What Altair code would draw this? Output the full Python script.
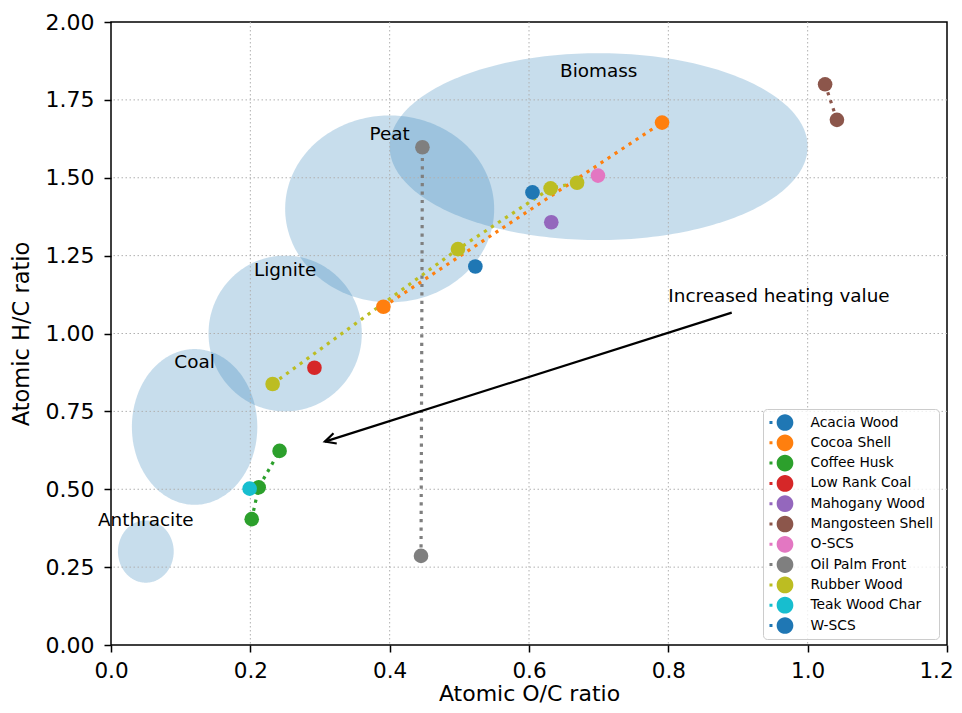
import math
import altair as alt
import numpy as np
import pandas as pd

# ---------------- data ----------------
series_names = ["Acacia Wood", "Cocoa Shell", "Coffee Husk", "Low Rank Coal",
                "Mahogany Wood", "Mangosteen Shell", "O-SCS", "Oil Palm Front",
                "Rubber Wood", "Teak Wood Char", "W-SCS"]
series_colors = ["#1f77b4", "#ff7f0e", "#2ca02c", "#d62728", "#9467bd", "#8c564b",
                 "#e377c2", "#7f7f7f", "#bcbd22", "#17becf", "#1f77b4"]

acacia_wood_oc = [0.523]
acacia_wood_hc = [1.215]
cocoa_shell_oc = [0.391, 0.791]
cocoa_shell_hc = [1.086, 1.677]
coffee_husk_oc = [0.202, 0.212, 0.242]
coffee_husk_hc = [0.404, 0.506, 0.623]
low_rank_coal_oc = [0.292]
low_rank_coal_hc = [0.890]
mahogany_wood_oc = [0.632]
mahogany_wood_hc = [1.357]
mangosteen_shell_oc = [1.025, 1.042]
mangosteen_shell_hc = [1.800, 1.686]
o_scs_oc = [0.699]
o_scs_hc = [1.507]
oil_palm_front_oc = [0.445, 0.447]
oil_palm_front_hc = [0.286, 1.598]
rubber_wood_oc = [0.232, 0.498, 0.631, 0.669]
rubber_wood_hc = [0.838, 1.271, 1.466, 1.484]
teak_wood_char_oc = [0.199]
teak_wood_char_hc = [0.502]
w_scs_oc = [0.605]
w_scs_hc = [1.453]

series_oc = [acacia_wood_oc, cocoa_shell_oc, coffee_husk_oc, low_rank_coal_oc,
             mahogany_wood_oc, mangosteen_shell_oc, o_scs_oc, oil_palm_front_oc,
             rubber_wood_oc, teak_wood_char_oc, w_scs_oc]
series_hc = [acacia_wood_hc, cocoa_shell_hc, coffee_husk_hc, low_rank_coal_hc,
             mahogany_wood_hc, mangosteen_shell_hc, o_scs_hc, oil_palm_front_hc,
             rubber_wood_hc, teak_wood_char_hc, w_scs_hc]

# fuel regions (ellipses): centre, width, height
region_names = ["Anthracite", "Coal", "Lignite", "Peat", "Biomass"]
region_cx = [0.05, 0.12, 0.25, 0.40, 0.70]
region_cy = [0.30, 0.70, 1.00, 1.40, 1.60]
region_w = [0.08, 0.18, 0.22, 0.30, 0.60]
region_h = [0.20, 0.50, 0.50, 0.60, 0.60]
region_label_x = [0.05, 0.12, 0.25, 0.40, 0.70]
region_label_y = [0.40, 0.91, 1.205, 1.64, 1.843]

# annotation
arrow_x = [0.891, 0.307]
arrow_y = [1.067, 0.653]
annot_text = ["Increased heating value"]
annot_x = [0.80]
annot_y = [1.12]

x_ticks = [0.0, 0.2, 0.4, 0.6, 0.8, 1.0, 1.2]
y_ticks = [0.0, 0.25, 0.5, 0.75, 1.0, 1.25, 1.5, 1.75, 2.0]

# ---------------- tables ----------------
pts = pd.DataFrame([
    {"series": n, "x": float(xv), "y": float(yv)}
    for n, xs, ys in zip(series_names, series_oc, series_hc)
    for xv, yv in zip(xs, ys)
])

ell_rows = []
t = np.linspace(0, np.pi, 121)
for n, cx, cy, w, h in zip(region_names, region_cx, region_cy, region_w, region_h):
    for tt in t:
        ell_rows.append({"region": n,
                         "x": float(cx - (w / 2) * np.cos(tt)),
                         "y": float(cy - (h / 2) * np.sin(tt)),
                         "ytop": float(cy + (h / 2) * np.sin(tt))})
ell = pd.DataFrame(ell_rows)

labels = pd.DataFrame({"text": region_names, "x": region_label_x, "y": region_label_y})
arrow = pd.DataFrame({"x": arrow_x, "y": arrow_y})
tip = pd.DataFrame({"x": arrow_x[1:], "y": arrow_y[1:]})
annot = pd.DataFrame({"text": annot_text, "x": annot_x, "y": annot_y})
gx = pd.DataFrame({"x": x_ticks[1:-1]})
gy = pd.DataFrame({"y": y_ticks[1:-1]})

W, H = 836, 623
FONT = "DejaVu Sans"
xscale = alt.Scale(domain=[0, 1.2], nice=False, zero=False)
yscale = alt.Scale(domain=[0, 2], nice=False, zero=False)

xaxis = alt.Axis(values=x_ticks, format=".1f", title="Atomic O/C ratio", grid=False,
                 domain=False, tickColor="black", tickWidth=1.5, tickSize=7,
                 labelFontSize=21.5, labelFont=FONT, labelColor="black", labelPadding=8,
                 labelOffset=alt.ExprRef(expr="datum.value >= 1.19 ? -11 : 0"),
                 labelFlush=False, labelOverlap=False,
                 titleFontSize=22, titleFont=FONT, titleFontWeight="normal",
                 titleColor="black", titleBaseline="alphabetic", titleY=55)
yaxis = alt.Axis(values=y_ticks, format=".2f", title="Atomic H/C ratio", grid=False,
                 domain=False, tickColor="black", tickWidth=1.5, tickSize=7,
                 labelFontSize=22, labelFont=FONT, labelColor="black", labelPadding=10,
                 labelFlush=False, labelOverlap=False,
                 titleFontSize=22.5, titleFont=FONT, titleFontWeight="normal",
                 titleColor="black", titleBaseline="alphabetic", titleX=-83)

X = alt.X("x:Q", scale=xscale, axis=xaxis)
Y = alt.Y("y:Q", scale=yscale, axis=yaxis)

color_scale = alt.Scale(domain=series_names, range=series_colors)

ellipses = alt.Chart(ell).mark_area(color="#1f77b4", fillOpacity=0.25, opacity=1).encode(
    x=X, y=Y, y2="ytop:Q", detail="region:N",
)

grid_x = alt.Chart(gx).mark_rule(color="#b0b0b0", strokeWidth=1, strokeDash=[1.5, 2.5]).encode(x=X)
grid_y = alt.Chart(gy).mark_rule(color="#b0b0b0", strokeWidth=1, strokeDash=[1.5, 2.5]).encode(y=Y)

legend_symbol = ("M -1.86 -0.18 L -1.5 -0.18 L -1.5 0.18 L -1.86 0.18 Z "
                 "M 1 0 A 1 1 0 1 0 -1 0 A 1 1 0 1 0 1 0 Z")
legend = alt.Legend(title=None, orient="none", legendX=652, legendY=387,
                    symbolType=legend_symbol, symbolSize=279,
                    symbolStrokeWidth=0, symbolOpacity=1,
                    labelFontSize=13.8, labelFont=FONT, labelColor="black",
                    padding=5, rowPadding=3.3, symbolOffset=8.5,
                    labelOffset=17, fillColor="rgba(255,255,255,0.8)",
                    strokeColor="#cccccc", cornerRadius=4, labelLimit=300)
C = alt.Color("series:N", scale=color_scale, sort=series_names, legend=legend)

lines = alt.Chart(pts).mark_line(strokeWidth=3.2, strokeDash=[3.2, 5.2], strokeCap="butt").encode(
    x=X, y=Y, color=C)

points = alt.Chart(pts).mark_circle(size=214, opacity=1).encode(x=X, y=Y, color=C)

region_text = alt.Chart(labels).mark_text(fontSize=18.4, font=FONT, color="black",
                                          align="center", baseline="middle").encode(
    x=X, y=Y, text="text:N")

px_x = W / 1.2
px_y = H / 2.0
dx = (arrow_x[1] - arrow_x[0]) * px_x
dy = -(arrow_y[1] - arrow_y[0]) * px_y
head_angle = math.degrees(math.atan2(dx, -dy)) % 360

shaft = alt.Chart(arrow).mark_line(color="black", strokeWidth=2.2).encode(x=X, y=Y)
head = alt.Chart(tip).mark_point(shape="M -0.5 1 L 0 0 L 0.5 1", size=462, angle=head_angle,
                                 filled=False, color="black", strokeWidth=2.2, opacity=1,
                                 strokeJoin="miter").encode(x=X, y=Y)
annot_mark = alt.Chart(annot).mark_text(fontSize=18.4, font=FONT, color="black",
                                        align="left", baseline="middle").encode(
    x=X, y=Y, text="text:N")

chart = alt.layer(
    ellipses, grid_x, grid_y, lines, points, region_text, shaft, head, annot_mark
).properties(
    width=W, height=H,
    padding={"left": 103, "top": 14, "right": 7, "bottom": 60},
    autosize=alt.AutoSizeParams(type="none"),
    background="white",
).configure_view(stroke="black", strokeWidth=1.5)

chart.save("out.html", embed_options={"renderer": "svg", "actions": False})
